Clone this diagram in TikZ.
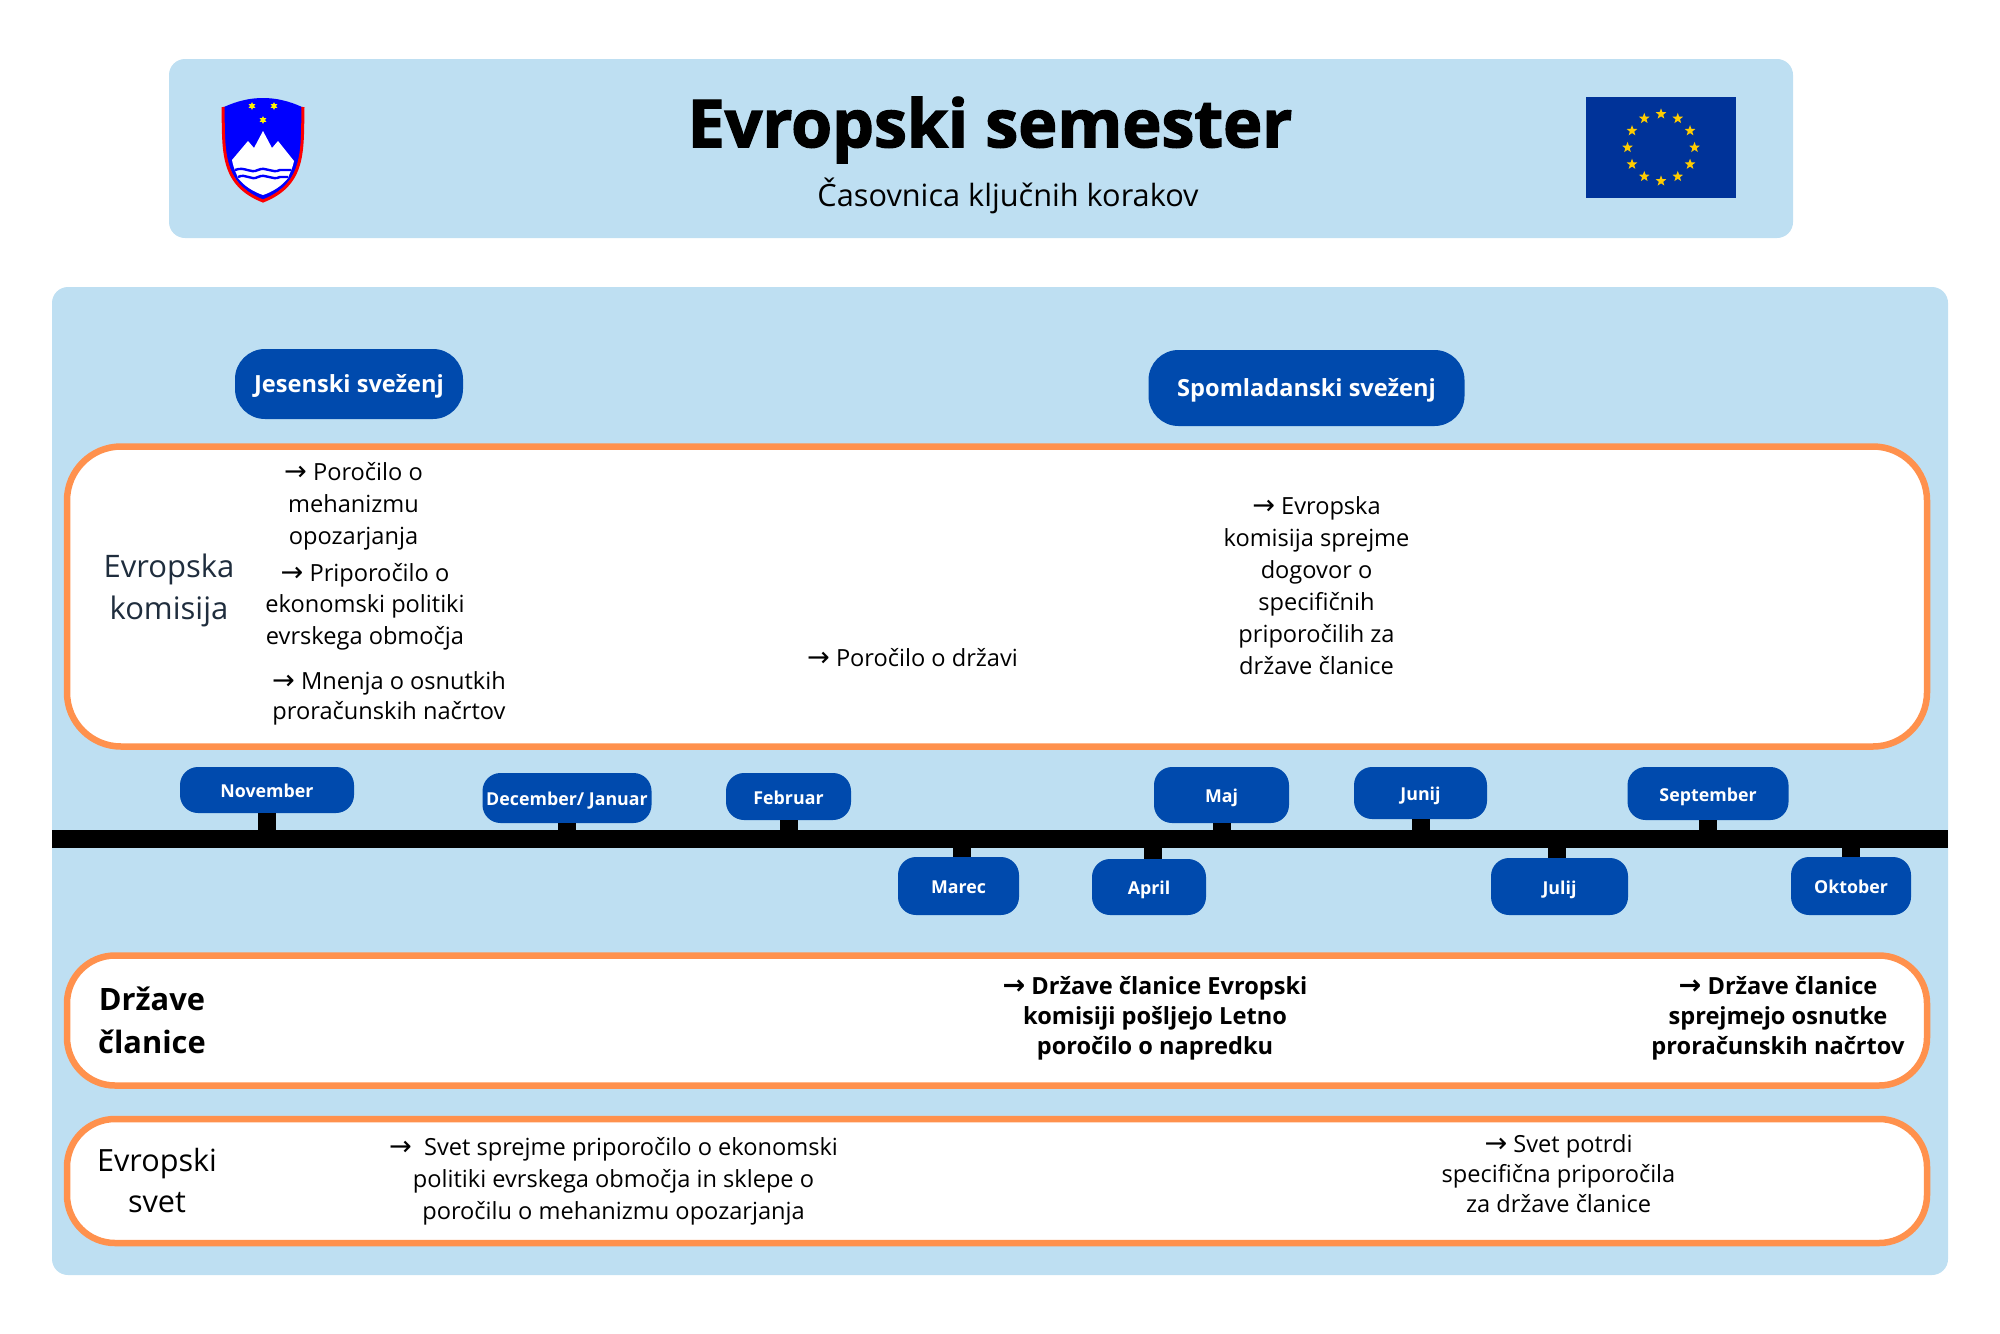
\documentclass[tikz,border=0pt]{standalone}
\usepackage{fontspec}
\usepackage{tikz}
\usetikzlibrary{positioning, calc, shapes.geometric}
\setmainfont{Open Sans}
\newfontfamily\arrowfont[Scale=1.15]{DejaVu Sans}
\newfontfamily\titlefont[FakeBold=2]{Open Sans Bold}
\newcommand{\arr}{{\arrowfont →}}
\definecolor{skyband}{HTML}{BEDFF2}
\definecolor{cobalt}{HTML}{004AAD}
\definecolor{tangerine}{HTML}{FF914D}
\definecolor{flagblue}{HTML}{003399}
\definecolor{flagstar}{HTML}{FFCC00}
\definecolor{slate}{HTML}{1F2D3D}

\begin{document}
\begin{tikzpicture}[
    x=0.5pt, y=-0.5pt,
    panel/.style = {
      draw=none, fill=skyband, rounded corners=8pt, inner sep=0pt
    },
    actorbox/.style = {
      draw=tangerine, line width=3.25pt, fill=white, inner sep=0pt,
      rounded corners=27pt, minimum width=930pt
    },
    package/.style = {
      fill=cobalt, text=white, rounded corners=15pt, inner sep=0pt,
      text height=8.8pt, text depth=0pt,
      font=\fontsize{11.8}{14}\selectfont\bfseries
    },
    month/.style = {
      fill=cobalt, text=white, rounded corners=9pt, inner sep=0pt,
      text height=7.6pt, text depth=0pt,
      font=\fontsize{8.9}{11}\selectfont\bfseries
    },
    stem/.style      = {line width=9pt},
    bodytext/.style  = {align=center, inner sep=0pt, font=\fontsize{11.8}{16}\selectfont},
    boldtext/.style  = {bodytext, font=\fontsize{11.8}{15}\selectfont\bfseries},
    actortext/.style = {align=center, inner sep=0pt, font=\fontsize{15.4}{21}\selectfont},
    eustar/.style    = {star, star points=5, star point ratio=2.4, fill=flagstar,
      minimum size=5.6pt, inner sep=0pt},
    coatstar/.style  = {star, star points=6, star point ratio=2, fill=yellow,
      minimum size=4pt, inner sep=0pt}
  ]

    \useasboundingbox (0,0) rectangle (2000,1333);

    % Header
    \node[panel, minimum width=812pt, minimum height=89.5pt] (header) at (981,148.5) {};
    \node[inner sep=0pt, font=\fontsize{33.1}{40}\selectfont\titlefont] (title) at (990,130) {Evropski semester};
    \node[inner sep=0pt, font=\fontsize{15.35}{20}\selectfont] (subtitle) at (1008,196) {Časovnica ključnih korakov};

    % Coat of arms
    \fill[blue] (224,107) .. controls (250,95) and (276,95) .. (302,107)
      .. controls (301,150) and (305,182) .. (263,200)
      .. controls (221,182) and (225,150) .. (224,107) -- cycle;
    \draw[red, line width=1.5pt] (223,107) .. controls (224,150) and (220,184) .. (263,201)
      .. controls (306,184) and (302,150) .. (303,107);
    \fill[white] (232,160) -- (248,141) -- (254,148) -- (263,131) -- (272,148) -- (278,141) -- (294,161)
      .. controls (292,170) and (290,172) .. (288,178)
      .. controls (282,186) and (272,192) .. (263,195)
      .. controls (254,192) and (244,186) .. (238,178)
      .. controls (236,172) and (234,170) .. (232,160) -- cycle;
    \draw[blue, line width=1.2pt] (235,170) .. controls (245,166) and (250,174) .. (258,170)
      .. controls (266,166) and (272,174) .. (280,170) -- (291,170);
    \draw[blue, line width=1.2pt] (238,177) .. controls (246,173) and (251,181) .. (258,177)
      .. controls (266,173) and (272,181) .. (280,177) -- (288,177);
    \node[coatstar] (coat1) at (252,106) {};
    \node[coatstar] (coat2) at (274,106) {};
    \node[coatstar] (coat3) at (263,120) {};

    % EU flag
    \node[fill=flagblue, minimum width=75pt, minimum height=50.5pt, inner sep=0pt] (flag) at (1661,147.5) {};
    \foreach \i in {1,...,12}
      \node[eustar] (star\i) at ($(flag.center)+(\i*30:33.5)$) {};

    % Main panel
    \node[panel, minimum width=948pt, minimum height=494pt] (main) at (1000,781) {};

    \node[package, minimum width=114pt, minimum height=35pt] (autumn) at (349,384) {Jesenski sveženj};
    \node[package, minimum width=158pt, minimum height=38pt] (spring) at (1306.5,388) {Spomladanski sveženj};

    % Actors
    \node[actorbox, minimum height=150pt] (commission) at (997,596.5) {};
    \node[actorbox, minimum height=65pt, rounded corners=24pt] (states) at (997,1020.5) {};
    \node[actorbox, minimum height=62pt, rounded corners=24pt] (council) at (997,1181) {};

    \node[actortext, text=slate, font=\fontsize{15.5}{21}\selectfont] (commlabel) at (169,590.5) {Evropska\\komisija};
    \node[actortext, font=\fontsize{15.4}{21.5}\selectfont\bfseries] (statelabel) at (152,1020) {Države\\članice};
    \node[actortext, font=\fontsize{15.3}{20.5}\selectfont] (councillabel) at (157,1181) {Evropski\\svet};

    \node[bodytext] (report1) at (353.5,506.5) {\arr{} Poročilo o\\mehanizmu\\opozarjanja};
    \node[bodytext, font=\fontsize{11.8}{15.7}\selectfont] (report2) at (365,606.5) {\arr{} Priporočilo o\\ekonomski politiki\\evrskega območja};
    \node[bodytext, font=\fontsize{11.8}{14.8}\selectfont] (report3) at (389,698.5) {\arr{} Mnenja o osnutkih\\proračunskih načrtov};
    \node[bodytext] (report4) at (912.5,658) {\arr{} Poročilo o državi};
    \node[bodytext] (report5) at (1316.5,585.5) {\arr{} Evropska\\komisija sprejme\\dogovor o\\specifičnih\\priporočilih za\\države članice};

    \node[boldtext] (state1) at (1155,1018) {\arr{} Države članice Evropski\\komisiji pošljejo Letno\\poročilo o napredku};
    \node[boldtext] (state2) at (1778,1018) {\arr{} Države članice\\sprejmejo osnutke\\proračunskih načrtov};

    \node[bodytext] (council1) at (613.5,1181) {\arr{}\ \ Svet sprejme priporočilo o ekonomski\\politiki evrskega območja in sklepe o\\poročilu o mehanizmu opozarjanja};
    \node[bodytext, font=\fontsize{11.8}{15}\selectfont] (council2) at (1558.5,1174) {\arr{} Svet potrdi\\specifična priporočila\\za države članice};

    % Timeline
    \node[fill=black, minimum width=948pt, minimum height=9pt, inner sep=0pt] (timeline) at (1000,839) {};

    \node[month, minimum width=87pt, minimum height=23pt] (nov) at (267,790) {November};
    \node[month, minimum width=84.5pt, minimum height=25pt] (dec) at (567,798) {December/ Januar};
    \node[month, minimum width=62.5pt, minimum height=23.5pt] (feb) at (788.5,796.5) {Februar};
    \node[month, minimum width=60.5pt, minimum height=29pt] (mar) at (958.5,886) {Marec};
    \node[month, minimum width=57pt, minimum height=28pt] (apr) at (1149,887) {April};
    \node[month, minimum width=67.5pt, minimum height=28pt] (may) at (1221.5,795) {Maj};
    \node[month, minimum width=66.5pt, minimum height=26pt] (jun) at (1420.5,793) {Junij};
    \node[month, minimum width=68.5pt, minimum height=28.5pt] (jul) at (1559.5,886.5) {Julij};
    \node[month, minimum width=80.5pt, minimum height=26.5pt] (sep) at (1708,793.5) {September};
    \node[month, minimum width=60pt, minimum height=29pt] (oct) at (1851,886) {Oktober};

    \foreach \m in {nov,dec,feb,may,jun,sep}
      \draw[stem] (\m.south) -- (\m.south |- timeline.north);
    \foreach \m/\off in {mar/1.5pt,apr/2pt,jul/-1.2pt,oct/0pt}
      \draw[stem] ([xshift=\off]\m.north) -- ([xshift=\off]\m.north |- timeline.south);

\end{tikzpicture}
\end{document}
